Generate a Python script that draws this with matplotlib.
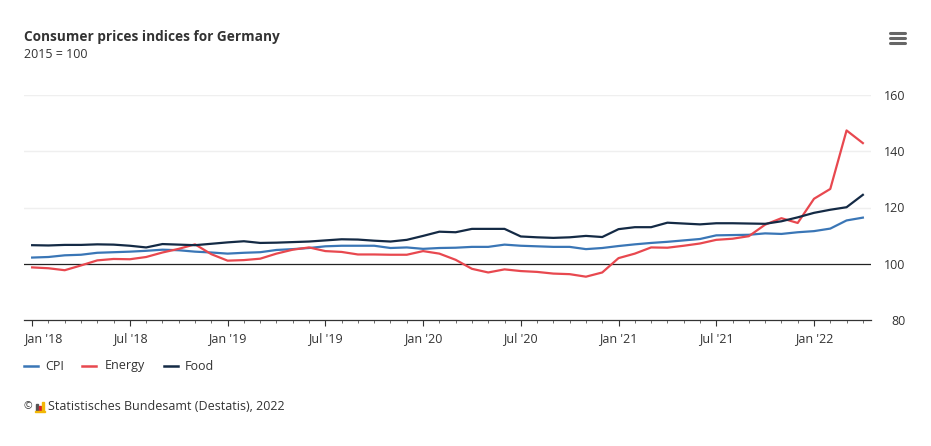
import matplotlib
matplotlib.use("Agg")
import matplotlib.pyplot as plt
import matplotlib.transforms as mtransforms
from matplotlib.lines import Line2D
from matplotlib.patches import Rectangle
import numpy as np

plt.rcParams['font.family'] = ['Open Sans', 'DejaVu Sans']

months = ["2018-%02d" % m for m in range(1, 13)] + ["2019-%02d" % m for m in range(1, 13)] + \
         ["2020-%02d" % m for m in range(1, 13)] + ["2021-%02d" % m for m in range(1, 13)] + \
         ["2022-%02d" % m for m in range(1, 5)]

cpi = [102.2, 102.4, 103.0, 103.2, 103.9, 104.1, 104.3, 104.6, 105.0, 104.8, 104.3, 104.0,
       103.6, 103.9, 104.1, 104.9, 105.2, 105.6, 106.2, 106.4, 106.4, 106.4, 105.6, 105.8,
       105.3, 105.6, 105.7, 106.0, 106.0, 106.8, 106.4, 106.2, 106.0, 106.0, 105.2, 105.6,
       106.3, 106.9, 107.4, 107.8, 108.3, 108.8, 110.1, 110.2, 110.3, 110.8, 110.6, 111.2,
       111.6, 112.5, 115.4, 116.4]

energy = [98.7, 98.4, 97.7, 99.4, 101.2, 101.7, 101.6, 102.4, 104.0, 105.3, 106.9, 103.4,
          101.1, 101.3, 101.8, 103.6, 105.0, 105.8, 104.5, 104.2, 103.3, 103.3, 103.2, 103.2,
          104.5, 103.6, 101.4, 98.2, 96.9, 98.0, 97.4, 97.1, 96.5, 96.3, 95.4, 96.9,
          102.0, 103.6, 105.8, 105.7, 106.4, 107.2, 108.5, 108.9, 109.8, 113.9, 116.2, 114.5,
          123.1, 126.6, 147.4, 142.9]

food = [106.6, 106.5, 106.7, 106.7, 106.9, 106.8, 106.4, 105.8, 107.0, 106.8, 106.6, 107.1,
        107.6, 108.0, 107.4, 107.5, 107.7, 107.9, 108.3, 108.7, 108.6, 108.2, 107.9, 108.5,
        109.9, 111.4, 111.2, 112.4, 112.4, 112.4, 109.7, 109.4, 109.2, 109.4, 109.9, 109.5,
        112.3, 113.0, 113.0, 114.6, 114.3, 114.0, 114.4, 114.4, 114.3, 114.2, 115.1, 116.5,
        118.1, 119.2, 120.1, 124.5]

tick_labels = ["Jan '18", "Jul '18", "Jan '19", "Jul '19", "Jan '20",
               "Jul '20", "Jan '21", "Jul '21", "Jan '22"]
y_ticks = [80, 100, 120, 140, 160]

series = [("CPI", cpi, "#3a76b6"), ("Energy", energy, "#e8484f"), ("Food", food, "#142a45")]

W, H = 931, 446
fig = plt.figure(figsize=(W / 100, H / 100), dpi=100)
fig.patch.set_facecolor("white")

def fx(px):
    return px / W

def fy(py):
    return 1 - py / H

ax = fig.add_axes([fx(24), fy(320), fx(871) - fx(24), fy(95) - fy(320)])
x = np.arange(len(months))

for yv in y_ticks:
    if yv in (120, 140, 160):
        ax.axhline(yv, color="#efefef", lw=1.0, zorder=0)
ax.axhline(100, color="#222222", lw=0.9, zorder=1)

for name, vals, col in series:
    ax.plot(x, vals, color=col, lw=1.6, zorder=3, solid_joinstyle="round")

ax.set_xlim(-0.5, len(months) - 0.5)
ax.set_ylim(80, 160)

for s in ["top", "left", "right"]:
    ax.spines[s].set_visible(False)
ax.spines["bottom"].set_color("#333333")
ax.spines["bottom"].set_linewidth(0.9)

ax.set_xticks(np.arange(0, len(months), 6))
ax.set_xticklabels(tick_labels)
ax.set_xticks(x, minor=True)
ax.tick_params(axis="x", which="major", length=4.5, width=0.8, color="#333333",
               labelsize=9, labelcolor="#333333", pad=4)
ax.tick_params(axis="x", which="minor", length=2.5, width=0.6, color="#555555")

# first label kept inside the plot area (as in the original)
first = ax.get_xticklabels()[0]
first.set_horizontalalignment("left")
first.set_transform(first.get_transform() +
                    mtransforms.ScaledTranslation(-8 / 100, 0, fig.dpi_scale_trans))

ax.yaxis.tick_right()
ax.set_yticks(y_ticks)
ax.set_yticklabels([str(v) for v in y_ticks])
ax.tick_params(axis="y", length=0, labelsize=9, labelcolor="#333333", pad=25)
for lab in ax.get_yticklabels():
    lab.set_horizontalalignment("right")

# Title and subtitle
fig.text(fx(24), fy(37), "Consumer prices indices for Germany", fontsize=9.8,
         fontweight="bold", color="#333333", va="center", ha="left")
fig.text(fx(24), fy(55), "2015 = 100", fontsize=9, color="#333333", va="center", ha="left")

# Menu icon
for py in (33, 38, 43):
    fig.add_artist(Line2D([fx(890), fx(905)], [fy(py), fy(py)], color="#666666",
                          lw=2.2, solid_capstyle="round"))

# Legend
leg_y = fy(366)
leg_items = [(24, 45), (82, 105), (164, 185)]
for (lx, tx), (name, vals, col) in zip(leg_items, series):
    fig.add_artist(Line2D([fx(lx), fx(lx + 14)], [leg_y, leg_y], color=col, lw=1.8))
    fig.text(fx(tx), leg_y, name, fontsize=9, color="#333333", va="center", ha="left")

# Credits
cy = fy(407)
fig.text(fx(24), cy, "\u00a9", fontsize=7.5, color="#333333", va="center", ha="left")
fig.add_artist(Rectangle((fx(36), fy(411)), fx(2), fy(404) - fy(411), color="#555555",
                         transform=fig.transFigure))
fig.add_artist(Rectangle((fx(39), fy(411)), fx(2), fy(406) - fy(411), color="#d9252b",
                         transform=fig.transFigure))
fig.add_artist(Rectangle((fx(42), fy(411)), fx(2), fy(402) - fy(411), color="#f2b705",
                         transform=fig.transFigure))
fig.add_artist(Rectangle((fx(35), fy(412)), fx(10), fy(411) - fy(412), color="#f2b705",
                         transform=fig.transFigure))
fig.text(fx(48), cy, "Statistisches Bundesamt (Destatis), 2022", fontsize=9,
         color="#333333", va="center", ha="left")

fig.savefig("out.png", dpi=100, facecolor="white")
